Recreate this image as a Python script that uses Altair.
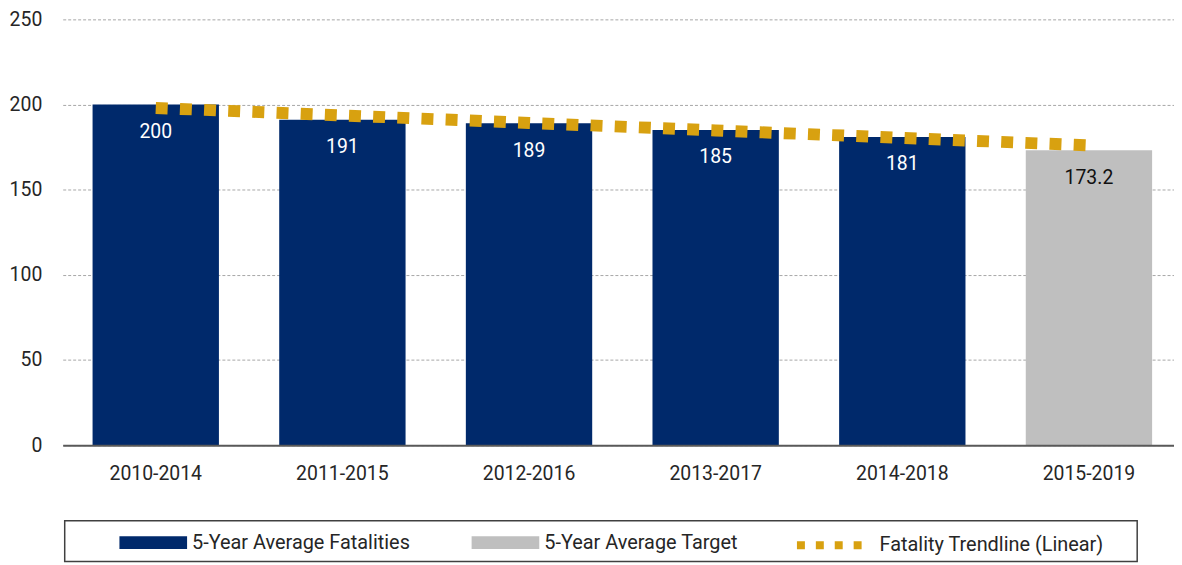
import altair as alt
import pandas as pd

periods = ["2010-2014", "2011-2015", "2012-2016", "2013-2017", "2014-2018", "2015-2019"]
values = [200, 191, 189, 185, 181, 173.2]
series = ["5-Year Average Fatalities"] * 5 + ["5-Year Average Target"]
trend_values = [198.0, 193.6, 189.2, 184.8, 180.4, 176.0]
trend_name = "Fatality Trendline (Linear)"
y_ticks = [0, 50, 100, 150, 200, 250]

series_domain = ["5-Year Average Fatalities", "5-Year Average Target"]
series_colors = ["#00296B", "#BFBFBF"]
gold = "#D8A110"
FONT = "Roboto, Liberation Sans, sans-serif"

bar_df = pd.DataFrame({"period": periods, "value": values, "series": series})
trend_df = pd.DataFrame({"period": periods, "value": trend_values, "trend": [trend_name] * len(periods)})
box_df = pd.DataFrame({"k": [0]})

xscale = alt.Scale(paddingInner=0.323, paddingOuter=0.1386, align=0.577)
yscale = alt.Scale(domain=[0, 250], nice=False)

x_enc = alt.X(
    "period:N", sort=periods, scale=xscale,
    axis=alt.Axis(title=None, labelAngle=0, ticks=False, domainColor="#595959", domainWidth=2,
                  labelFont=FONT, labelFontSize=19.5, labelColor="#262626", labelPadding=19,
                  zindex=1, grid=False),
)
y_enc = alt.Y(
    "value:Q", scale=yscale,
    axis=alt.Axis(title=None, values=y_ticks, ticks=False, domain=False, grid=True,
                  gridColor="#A6A6A6", gridDash=[3, 2], gridWidth=1,
                  labelFont=FONT, labelFontSize=19.5, labelColor="#262626", labelPadding=21),
)

bars = alt.Chart(bar_df).mark_bar().encode(
    x=x_enc,
    y=y_enc,
    fill=alt.Fill(
        "series:N",
        scale=alt.Scale(domain=series_domain, range=series_colors),
        legend=alt.Legend(
            title=None, orient="none", legendX=57, legendY=492, direction="horizontal",
            symbolType="M-1,-0.19H1V0.19H-1Z", symbolSize=4624, symbolStrokeWidth=0,
            labelFont=FONT, labelFontSize=20, labelColor="#262626", labelOffset=5, labelLimit=400,
            columnPadding=61, padding=0,
        ),
    ),
)

labels = alt.Chart(bar_df).mark_text(dy=27.5, baseline="middle", fontSize=19.5, font=FONT).encode(
    x=alt.X("period:N", sort=periods),
    y=alt.Y("value:Q"),
    text=alt.Text("value:Q", format="~g"),
    color=alt.condition(alt.datum.series == "5-Year Average Target", alt.value("#111111"), alt.value("#FFFFFF")),
)

trend = alt.Chart(trend_df).mark_line(strokeWidth=12, strokeDash=[12, 12.3], strokeCap="butt").encode(
    x=alt.X("period:N", sort=periods),
    y=alt.Y("value:Q"),
    stroke=alt.Stroke(
        "trend:N",
        scale=alt.Scale(domain=[trend_name], range=[gold]),
        legend=alt.Legend(
            title=None, orient="none", legendX=734, legendY=492, direction="horizontal",
            symbolType="stroke", symbolSize=4225, symbolStrokeWidth=8, symbolDash=[8, 11],
            labelFont=FONT, labelFontSize=20, labelColor="#262626", labelOffset=14, labelLimit=400,
            padding=0,
        ),
    ),
)

box = alt.Chart(box_df).mark_rect(fill="transparent", stroke="#404040", strokeWidth=1.5).encode(
    x=alt.value(2), x2=alt.value(1080), y=alt.value(504), y2=alt.value(545)
)

chart = alt.layer(bars, labels, trend, box).resolve_scale(fill="independent", stroke="independent").properties(
    width=1117, height=428,
    autosize=alt.AutoSizeParams(type="none"),
    padding={"left": 55, "top": 10, "right": 0, "bottom": 119},
    background="white",
).configure_view(stroke=None)

chart.save("out.html", embed_options={"renderer": "svg", "actions": False})
